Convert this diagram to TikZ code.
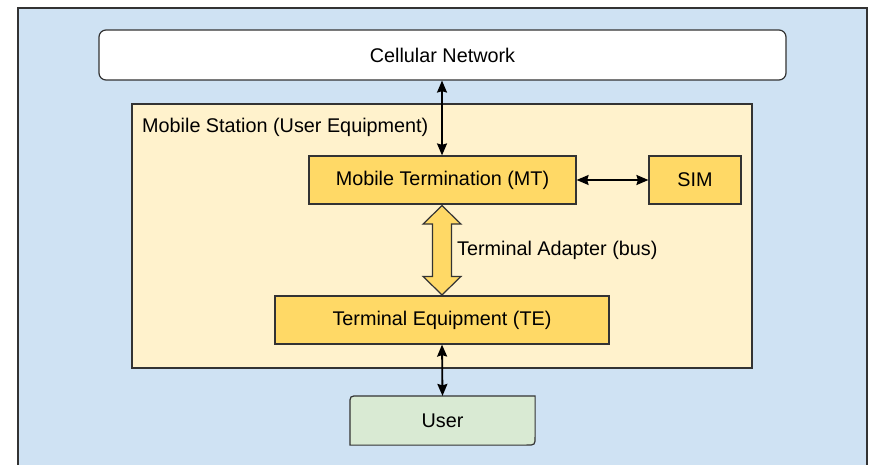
\documentclass[tikz,border=0pt]{standalone}
\usepackage{fontspec}
\setmainfont{Liberation Sans}
\usetikzlibrary{arrows.meta,calc}
\definecolor{bgblue}{HTML}{CFE2F3}
\definecolor{lightyel}{HTML}{FFF2CC}
\definecolor{yel}{HTML}{FFD966}
\definecolor{lgreen}{HTML}{D9EAD3}
\definecolor{edge}{HTML}{333333}
\tikzset{
  box/.style={draw=edge, line width=1.2pt, inner sep=0pt, font=\fontsize{19.8}{23}\selectfont},
  ybox/.style={box, fill=yel},
  conn/.style={line width=1.8pt, {Stealth[length=12pt,width=10pt,inset=1.5pt]}-{Stealth[length=12pt,width=10pt,inset=1.5pt]}},
  lbl/.style={inner sep=0pt, anchor=west, font=\fontsize{19.8}{23}\selectfont}
}
\begin{document}
\begin{tikzpicture}[x=1pt,y=-1pt]
\useasboundingbox (0,0) rectangle (870,465);
% background panel
\fill[bgblue] (18,8) rectangle (867,466);
\draw[edge, line width=1.3pt] (18,466) -- (18,8) -- (867,8) -- (867,466);
% nodes
\node[box, fill=white, rounded corners=7pt, minimum width=687pt, minimum height=50pt] (net) at (442.5,55) {Cellular Network};
\node[box, fill=lightyel, minimum width=620pt, minimum height=264pt] (ms) at (442,236) {};
\node[lbl] (mslbl) at (142,127.5) {Mobile Station (User Equipment)};
\node[ybox, minimum width=267pt, minimum height=48pt] (mt) at (442.5,180) {Mobile Termination (MT)};
\node[ybox, minimum width=92pt, minimum height=48pt] (sim) at (695,180) {SIM};
\node[ybox, minimum width=334pt, minimum height=48pt] (te) at (442,320) {Terminal Equipment (TE)};
\node[box, draw=none, minimum width=184pt, minimum height=48pt] (user) at (442.5,420.5) {};
\draw[edge, line width=1.2pt, fill=lgreen]
  (user.south west) -- ($(user.north west)+(0,9)$) .. controls (user.north west) .. ($(user.north west)+(9,0)$)
  -- (user.north east) -- ($(user.south east)+(0,-9)$) .. controls (user.south east) .. ($(user.south east)+(-9,0)$) -- cycle;
\node[box, draw=none] (usertxt) at (user.center) {User};
% fat double arrow between MT and TE
\coordinate (fa) at ($(mt.south)+(-0.5,1)$);
\coordinate (fb) at ($(te.north)+(0,-0.5)$);
\draw[edge, line width=1.2pt, fill=yel]
  (fa) -- ($(fa)+(19,18.5)$) -- ($(fa)+(9.5,18.5)$) -- ($(fb)+(9.5,-18.5)$) -- ($(fb)+(19,-18.5)$)
  -- (fb) -- ($(fb)+(-19,-18.5)$) -- ($(fb)+(-9.5,-18.5)$) -- ($(fa)+(-9.5,18.5)$) -- ($(fa)+(-19,18.5)$) -- cycle;
\node[lbl] (ta) at (457,250.5) {Terminal Adapter (bus)};
% connectors
\draw[conn] (net.south -| 442,0) -- (mt.north -| 442,0);
\draw[conn] (mt.east) -- (sim.west);
\draw[conn] (te.south -| 442,0) -- (usertxt.center |- user.north);
\end{tikzpicture}
\end{document}
